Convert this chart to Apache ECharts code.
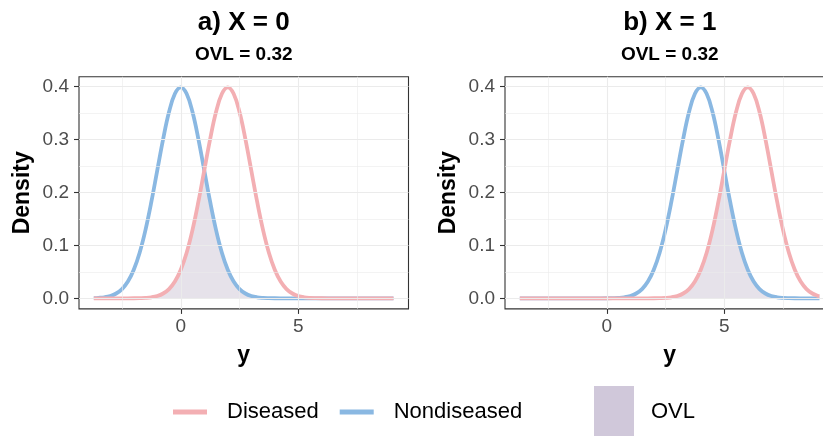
<!DOCTYPE html>
<html>
<head>
<meta charset="utf-8">
<script src="https://cdn.jsdelivr.net/npm/echarts@6/dist/echarts.min.js"></script>
<style>
html,body{margin:0;padding:0;background:#fff;}
#chart{width:823px;height:436px;}
</style>
</head>
<body>
<div id="chart"></div>
<script>
// ---- data ----
const yGrid = [-3.7,-3.5,-3.25,-3,-2.75,-2.5,-2.25,-2,-1.75,-1.5,-1.25,-1,-0.75,-0.5,-0.25,0,0.25,0.5,0.75,1,1.25,1.5,1.75,2,2.25,2.5,2.75,3,3.25,3.5,3.75,4,4.25,4.5,4.75,5,5.25,5.5,5.75,6,6.25,6.5,6.75,7,7.25,7.5,7.75,8,8.25,8.5,8.75,9,9.05];

const nondiseasedA = [0.0004,0.0009,0.0020,0.0044,0.0091,0.0175,0.0317,0.0540,0.0863,0.1295,0.1826,0.2420,0.3011,0.3521,0.3867,0.3989,0.3867,0.3521,0.3011,0.2420,0.1826,0.1295,0.0863,0.0540,0.0317,0.0175,0.0091,0.0044,0.0020,0.0009,0.0004,0.0001,0,0,0,0,0,0,0,0,0,0,0,0,0,0,0,0,0,0,0,0,0];
const diseasedA = [0,0,0,0,0,0,0,0.0001,0.0004,0.0009,0.0020,0.0044,0.0091,0.0175,0.0317,0.0540,0.0863,0.1295,0.1826,0.2420,0.3011,0.3521,0.3867,0.3989,0.3867,0.3521,0.3011,0.2420,0.1826,0.1295,0.0863,0.0540,0.0317,0.0175,0.0091,0.0044,0.0020,0.0009,0.0004,0.0001,0,0,0,0,0,0,0,0,0,0,0,0,0];
const ovlA = [0,0,0,0,0,0,0,0.0001,0.0004,0.0009,0.0020,0.0044,0.0091,0.0175,0.0317,0.0540,0.0863,0.1295,0.1826,0.2420,0.1826,0.1295,0.0863,0.0540,0.0317,0.0175,0.0091,0.0044,0.0020,0.0009,0.0004,0.0001,0,0,0,0,0,0,0,0,0,0,0,0,0,0,0,0,0,0,0,0,0];

const nondiseasedB = [0,0,0,0,0,0,0,0,0,0,0,0,0,0,0,0.0001,0.0004,0.0009,0.0020,0.0044,0.0091,0.0175,0.0317,0.0540,0.0863,0.1295,0.1826,0.2420,0.3011,0.3521,0.3867,0.3989,0.3867,0.3521,0.3011,0.2420,0.1826,0.1295,0.0863,0.0540,0.0317,0.0175,0.0091,0.0044,0.0020,0.0009,0.0004,0.0001,0,0,0,0,0];
const diseasedB = [0,0,0,0,0,0,0,0,0,0,0,0,0,0,0,0,0,0,0,0,0,0,0,0.0001,0.0004,0.0009,0.0020,0.0044,0.0091,0.0175,0.0317,0.0540,0.0863,0.1295,0.1826,0.2420,0.3011,0.3521,0.3867,0.3989,0.3867,0.3521,0.3011,0.2420,0.1826,0.1295,0.0863,0.0540,0.0317,0.0175,0.0091,0.0044,0.0038];
const ovlB = [0,0,0,0,0,0,0,0,0,0,0,0,0,0,0,0,0,0,0,0,0,0,0,0.0001,0.0004,0.0009,0.0020,0.0044,0.0091,0.0175,0.0317,0.0540,0.0863,0.1295,0.1826,0.2420,0.1826,0.1295,0.0863,0.0540,0.0317,0.0175,0.0091,0.0044,0.0020,0.0009,0.0004,0.0001,0,0,0,0,0];

const panelTitles = ['a) X = 0', 'b) X = 1'];
const panelSubtitles = ['OVL = 0.32', 'OVL = 0.32'];
const xTickValues = [0, 5];
const xMinorValues = [-2.5, 2.5, 7.5];
const yTickValues = [0, 0.1, 0.2, 0.3, 0.4];
const yMinorValues = [0.05, 0.15, 0.25, 0.35];
const seriesNames = ['Diseased', 'Nondiseased', 'OVL'];

// ---- styling ----
const COL_DIS = '#F3AFB3';
const COL_NON = '#8AB8E2';
const COL_OVL_FILL = 'rgba(150,135,168,0.24)';
const COL_OVL_KEY = '#D0C8DA';
const FONT = '"Liberation Sans", Arial, Helvetica, sans-serif';

const pair = (xs, ys) => xs.map((x, i) => [x, ys[i]]);

const panels = [
  {left: 79, dis: diseasedA, non: nondiseasedA, ovl: ovlA},
  {left: 505, dis: diseasedB, non: nondiseasedB, ovl: ovlB}
];
const PW = 329.5, PT = 76.7, PH = 232.2;

const grids = [], xAxes = [], yAxes = [], series = [], titles = [];
panels.forEach((p, i) => {
  grids.push({left: p.left, top: PT, width: PW, height: PH, show: true,
    outerBoundsMode: 'none',
    borderColor: '#333333', borderWidth: 1.1, backgroundColor: 'transparent', containLabel: false});
  xAxes.push({
    type: 'value', gridIndex: i, min: -4.33, max: 9.69,
    axisLine: {show: false, onZero: false},
    splitLine: {show: false},
    axisTick: {show: true, customValues: xTickValues, length: 5, lineStyle: {color: '#333333', width: 1.1}},
    axisLabel: {customValues: xTickValues, color: '#4D4D4D', fontSize: 19, fontFamily: FONT, margin: 8},
    name: 'y', nameLocation: 'middle', nameGap: 35,
    nameTextStyle: {fontWeight: 'bold', fontSize: 23, color: '#000', fontFamily: FONT}
  });
  yAxes.push({
    type: 'value', gridIndex: i, min: -0.02, max: 0.419,
    axisLine: {show: false, onZero: false},
    splitLine: {show: false},
    axisTick: {show: true, customValues: yTickValues, length: 5, lineStyle: {color: '#333333', width: 1.1}},
    axisLabel: {customValues: yTickValues, color: '#4D4D4D', fontSize: 19, fontFamily: FONT, margin: 10,
      formatter: v => Number(v).toFixed(1)},
    name: 'Density', nameLocation: 'middle', nameGap: 45,
    nameTextStyle: {fontWeight: 'bold', fontSize: 23, color: '#000', fontFamily: FONT}
  });
  const gridLines = [];
  xTickValues.forEach(v => gridLines.push({xAxis: v, lineStyle: {width: 1.1}}));
  xMinorValues.forEach(v => gridLines.push({xAxis: v, lineStyle: {width: 0.6}}));
  yTickValues.forEach(v => gridLines.push({yAxis: v, lineStyle: {width: 1.1}}));
  yMinorValues.forEach(v => gridLines.push({yAxis: v, lineStyle: {width: 0.6}}));
  series.push({
    name: seriesNames[2], type: 'line', xAxisIndex: i, yAxisIndex: i, z: 1,
    data: pair(yGrid, p.ovl), smooth: 0.4, showSymbol: false, symbol: 'none',
    lineStyle: {width: 0, color: COL_OVL_KEY}, itemStyle: {color: COL_OVL_KEY},
    areaStyle: {color: COL_OVL_FILL, opacity: 1},
    markLine: {silent: true, symbol: ['none', 'none'], label: {show: false}, animation: false,
      lineStyle: {color: '#EBEBEB', type: 'solid'}, data: gridLines}
  });
  series.push({
    name: seriesNames[1], type: 'line', xAxisIndex: i, yAxisIndex: i, z: 3,
    data: pair(yGrid, p.non), smooth: 0.4, showSymbol: false, symbol: 'none',
    lineStyle: {width: 3.8, color: COL_NON}, itemStyle: {color: COL_NON}
  });
  series.push({
    name: seriesNames[0], type: 'line', xAxisIndex: i, yAxisIndex: i, z: 4,
    data: pair(yGrid, p.dis), smooth: 0.4, showSymbol: false, symbol: 'none',
    lineStyle: {width: 3.8, color: COL_DIS}, itemStyle: {color: COL_DIS}
  });
  const cx = p.left + PW / 2;
  titles.push({text: panelTitles[i], left: cx, top: 10, textAlign: 'center', padding: 0,
    textStyle: {fontSize: 26, fontWeight: 'bold', color: '#000', fontFamily: FONT}});
  titles.push({text: panelSubtitles[i], left: cx, top: 45, textAlign: 'center', padding: 0,
    textStyle: {fontSize: 19, fontWeight: 'bold', color: '#000', fontFamily: FONT}});
});

const chart = echarts.init(document.getElementById('chart'), null, {renderer: 'canvas'});
chart.setOption({
  animation: false,
  backgroundColor: '#ffffff',
  title: titles,
  legend: [
    {left: 173, top: 401, padding: 0, orient: 'horizontal', itemWidth: 34, itemHeight: 5, itemGap: 21,
      selectedMode: false,
      data: [{name: seriesNames[0], icon: 'rect'}, {name: seriesNames[1], icon: 'rect'}],
      textStyle: {fontSize: 22, color: '#000', fontFamily: FONT, padding: [0, 0, 0, 15]}},
    {left: 594, top: 386, padding: 0, itemWidth: 40, itemHeight: 52, selectedMode: false,
      data: [{name: seriesNames[2], icon: 'rect', itemStyle: {color: COL_OVL_KEY}}],
      textStyle: {fontSize: 22, color: '#000', fontFamily: FONT, padding: [0, 0, 0, 12]}}
  ],
  grid: grids,
  xAxis: xAxes,
  yAxis: yAxes,
  series: series
});
</script>
</body>
</html>
